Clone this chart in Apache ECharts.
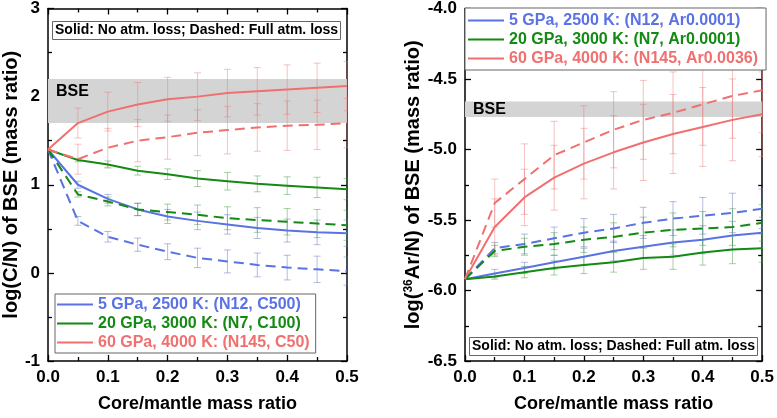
<!DOCTYPE html>
<html>
<head>
<meta charset="utf-8">
<script src="https://cdn.jsdelivr.net/npm/echarts@6/dist/echarts.min.js"></script>
<style>
  html, body { margin: 0; padding: 0; background: #fff; }
  #chart { width: 777px; height: 418px; }
</style>
</head>
<body>
<div id="chart"></div>
<script>
// x: core/mantle mass ratio
var ratio = [0, 0.05, 0.1, 0.15, 0.2, 0.25, 0.3, 0.35, 0.4, 0.45, 0.5];

// left panel: log(C/N) of BSE
var cnNames = ['5 GPa, 2500 K: (N12, C500)', '20 GPa, 3000 K: (N7, C100)', '60 GPa, 4000 K: (N145, C50)'];
var cnBlueSolid    = [1.40, 1.00, 0.84, 0.72, 0.64, 0.59, 0.55, 0.51, 0.48, 0.46, 0.45];
var cnBlueSolidErr = [0, 0.04, 0.05, 0.07, 0.08, 0.10, 0.11, 0.12, 0.13, 0.14, 0.15];
var cnBlueDash     = [1.40, 0.59, 0.41, 0.32, 0.24, 0.17, 0.13, 0.09, 0.06, 0.04, 0.02];
var cnBlueDashErr  = [0, 0.05, 0.06, 0.075, 0.09, 0.11, 0.13, 0.135, 0.14, 0.15, 0.16];
var cnGreenSolid    = [1.40, 1.28, 1.23, 1.16, 1.12, 1.07, 1.04, 1.01, 0.99, 0.97, 0.95];
var cnGreenSolidErr = [0, 0.02, 0.04, 0.05, 0.06, 0.09, 0.10, 0.09, 0.10, 0.115, 0.12];
var cnGreenDash     = [1.40, 0.89, 0.81, 0.72, 0.69, 0.66, 0.62, 0.60, 0.58, 0.56, 0.54];
var cnGreenDashErr  = [0, 0.03, 0.05, 0.07, 0.09, 0.11, 0.13, 0.14, 0.15, 0.16, 0.17];
var cnRedSolid    = [1.40, 1.70, 1.83, 1.91, 1.97, 2.00, 2.04, 2.06, 2.08, 2.10, 2.12];
var cnRedSolidErr = [0, 0.17, 0.22, 0.25, 0.25, 0.27, 0.27, 0.27, 0.28, 0.28, 0.28];
var cnRedDash     = [1.40, 1.29, 1.42, 1.50, 1.54, 1.59, 1.62, 1.65, 1.67, 1.68, 1.70];
var cnRedDashErr  = [0, 0.17, 0.22, 0.24, 0.25, 0.26, 0.27, 0.27, 0.28, 0.28, 0.28];
var cnBSE = [1.7, 2.2];

// right panel: log(36Ar/N) of BSE
var arNames = ['5 GPa, 2500 K: (N12, Ar0.0001)', '20 GPa, 3000 K: (N7, Ar0.0001)', '60 GPa, 4000 K: (N145, Ar0.0036)'];
var arBlueSolid    = [-5.92, -5.88, -5.84, -5.80, -5.76, -5.72, -5.69, -5.66, -5.64, -5.61, -5.59];
var arBlueSolidErr = [0, 0.03, 0.04, 0.05, 0.06, 0.07, 0.08, 0.09, 0.10, 0.10, 0.11];
var arBlueDash     = [-5.92, -5.70, -5.67, -5.63, -5.59, -5.56, -5.52, -5.49, -5.47, -5.45, -5.42];
var arBlueDashErr  = [0, 0.04, 0.07, 0.08, 0.10, 0.10, 0.11, 0.12, 0.13, 0.14, 0.14];
var arGreenSolid    = [-5.92, -5.90, -5.87, -5.84, -5.82, -5.80, -5.77, -5.76, -5.73, -5.71, -5.70];
var arGreenSolidErr = [0, 0.02, 0.04, 0.05, 0.06, 0.07, 0.08, 0.09, 0.09, 0.10, 0.10];
var arGreenDash     = [-5.92, -5.72, -5.69, -5.67, -5.64, -5.62, -5.59, -5.57, -5.56, -5.55, -5.52];
var arGreenDashErr  = [0, 0.04, 0.06, 0.08, 0.09, 0.10, 0.11, 0.12, 0.12, 0.13, 0.13];
var arRedSolid    = [-5.92, -5.55, -5.34, -5.20, -5.10, -5.02, -4.95, -4.89, -4.84, -4.79, -4.75];
var arRedSolidErr = [0, 0.20, 0.20, 0.23, 0.25, 0.26, 0.27, 0.28, 0.28, 0.29, 0.30];
var arRedDash     = [-5.92, -5.38, -5.21, -5.04, -4.95, -4.86, -4.79, -4.74, -4.68, -4.62, -4.58];
var arRedDashErr  = [0, 0.17, 0.25, 0.24, 0.26, 0.27, 0.28, 0.29, 0.29, 0.30, 0.30];
var arBSE = [-4.77, -4.66];

var noteText = 'Solid: No atm. loss; Dashed: Full atm. loss';

var FONT = 'Arial, "Liberation Sans", sans-serif';
var BLUE = '#5a72e4', GREEN = '#138a13', RED = '#f07070';
var BLUE_E = 'rgba(100,120,190,0.55)', GREEN_E = 'rgba(60,150,60,0.5)', RED_E = 'rgba(235,120,120,0.5)';

var chart = echarts.init(document.getElementById('chart'));

function pairs(ys) {
  return ratio.map(function (x, i) { return [x, ys[i]]; });
}

function lineSeries(name, ys, color, dashed, axis) {
  return {
    name: name,
    type: 'line',
    xAxisIndex: axis, yAxisIndex: axis,
    data: pairs(ys),
    symbol: 'none',
    smooth: false,
    z: 3,
    itemStyle: { color: color },
    lineStyle: { color: color, width: 2, type: dashed ? [10, 6] : 'solid' }
  };
}

// error bars drawn via custom series, coordinates come from api.coord
function renderErr(params, api) {
  var x = api.value(0);
  var lo = api.coord([x, api.value(1)]);
  var hi = api.coord([x, api.value(2)]);
  var cap = 3.5;
  var st = { stroke: api.visual('color'), lineWidth: 0.9 };
  return {
    type: 'group',
    children: [
      { type: 'line', shape: { x1: lo[0], y1: lo[1], x2: hi[0], y2: hi[1] }, style: st },
      { type: 'line', shape: { x1: lo[0] - cap, y1: lo[1], x2: lo[0] + cap, y2: lo[1] }, style: st },
      { type: 'line', shape: { x1: hi[0] - cap, y1: hi[1], x2: hi[0] + cap, y2: hi[1] }, style: st }
    ]
  };
}

function errSeries(ys, errs, color, axis) {
  var d = [];
  for (var i = 1; i < ratio.length; i++) {
    d.push([ratio[i], ys[i] - errs[i], ys[i] + errs[i]]);
  }
  return {
    type: 'custom',
    xAxisIndex: axis, yAxisIndex: axis,
    renderItem: renderErr,
    clip: true,
    z: 2,
    itemStyle: { color: color },
    encode: { x: 0, y: [1, 2] },
    data: d
  };
}

function bandSeries(range, axis, offsetY) {
  return {
    type: 'line',
    xAxisIndex: axis, yAxisIndex: axis,
    data: [],
    z: 1,
    silent: true,
    markArea: {
      silent: true,
      itemStyle: { color: '#d4d4d4' },
      label: {
        show: true, position: 'insideLeft', distance: 8, offset: [0, offsetY],
        formatter: 'BSE', color: '#000', fontSize: 16, fontWeight: 'bold', fontFamily: FONT
      },
      data: [[{ yAxis: range[0] }, { yAxis: range[1] }]]
    }
  };
}

var tickStyle = { color: '#000', width: 1.3 };

function xAxisCfg(grid, pos, withLabel) {
  return {
    type: 'value', gridIndex: grid, position: pos,
    min: 0, max: 0.5, interval: 0.1,
    axisLine: { show: true, onZero: false, lineStyle: { color: '#000', width: 1.5 } },
    axisTick: { show: true, inside: true, length: 6, lineStyle: tickStyle },
    minorTick: { show: true, splitNumber: 2, length: 4, lineStyle: tickStyle },
    splitLine: { show: false },
    axisLabel: {
      show: withLabel, color: '#000', fontSize: 17, fontWeight: 'bold', fontFamily: FONT, margin: 8,
      formatter: function (v) { return v.toFixed(1); }
    },
    name: withLabel ? 'Core/mantle mass ratio' : '',
    nameLocation: 'middle', nameGap: 34,
    nameTextStyle: { color: '#000', fontSize: 18, fontWeight: 'bold', fontFamily: FONT }
  };
}

function yAxisCfg(grid, pos, min, max, interval, digits, name, gap) {
  return {
    type: 'value', gridIndex: grid, position: pos,
    min: min, max: max, interval: interval,
    axisLine: { show: true, onZero: false, lineStyle: { color: '#000', width: 1.5 } },
    axisTick: { show: true, inside: true, length: 6, lineStyle: tickStyle },
    minorTick: { show: true, splitNumber: 2, length: 4, lineStyle: tickStyle },
    splitLine: { show: false },
    axisLabel: {
      show: !!name, color: '#000', fontSize: 17, fontWeight: 'bold', fontFamily: FONT, margin: 8,
      formatter: function (v) { return v.toFixed(digits); }
    },
    name: name || '',
    nameLocation: 'middle', nameRotate: 90, nameGap: gap,
    nameTextStyle: {
      color: '#000', fontSize: 20, fontWeight: 'bold', fontFamily: FONT,
      rich: { sup: { fontSize: 12, fontWeight: 'bold', fontFamily: FONT, color: '#000', padding: [0, 0, 10, 0] } }
    }
  };
}

// legend with plain line samples (thin rect), text coloured per series
function legendCfg(names, left, top, padding) {
  var cols = [BLUE, GREEN, RED];
  return {
    orient: 'vertical', left: left, top: top,
    icon: 'rect',
    itemWidth: 36, itemHeight: 2, itemGap: 0,
    padding: padding,
    backgroundColor: '#fff',
    borderColor: '#666', borderWidth: 1,
    selectedMode: false,
    textStyle: { fontSize: 16, fontWeight: 'bold', fontFamily: FONT, lineHeight: 19 },
    data: names.map(function (n, i) {
      return { name: n, itemStyle: { color: cols[i] }, textStyle: { color: cols[i] } };
    })
  };
}

function noteCfg(left, top) {
  return {
    text: noteText, left: left, top: top,
    padding: [2, 3, 3, 3],
    borderColor: '#666', borderWidth: 1, backgroundColor: '#fff',
    textStyle: { fontSize: 14, fontWeight: 'bold', color: '#000', fontFamily: FONT }
  };
}

var option = {
  animation: false,
  backgroundColor: '#fff',
  textStyle: { fontFamily: FONT },
  title: [noteCfg(52, 21), noteCfg(469, 337)],
  legend: [
    legendCfg(cnNames, 55, 294, [1, 6, 1, 2]),
    legendCfg(arNames, 465, 8, [3, 8, 2, 3])
  ],
  grid: [
    { left: 47, top: 8, width: 300, height: 358 },
    { left: 465, top: 8, width: 300, height: 358 }
  ],
  xAxis: [
    xAxisCfg(0, 'bottom', true), xAxisCfg(0, 'top', false),
    xAxisCfg(1, 'bottom', true), xAxisCfg(1, 'top', false)
  ],
  yAxis: [
    yAxisCfg(0, 'left', -1, 3, 1, 0, 'log(C/N) of BSE (mass ratio)', 26),
    yAxisCfg(0, 'right', -1, 3, 1, 0, null, 0),
    yAxisCfg(1, 'left', -6.5, -4, 0.5, 1, 'log({sup|36}Ar/N) of BSE (mass ratio)', 38),
    yAxisCfg(1, 'right', -6.5, -4, 0.5, 1, null, 0)
  ],
  series: [
    bandSeries(cnBSE, 0, -9),
    lineSeries(cnNames[0], cnBlueSolid, BLUE, false, 0),
    lineSeries(cnNames[1], cnGreenSolid, GREEN, false, 0),
    lineSeries(cnNames[2], cnRedSolid, RED, false, 0),
    lineSeries(cnNames[0], cnBlueDash, BLUE, true, 0),
    lineSeries(cnNames[1], cnGreenDash, GREEN, true, 0),
    lineSeries(cnNames[2], cnRedDash, RED, true, 0),
    errSeries(cnBlueSolid, cnBlueSolidErr, BLUE_E, 0),
    errSeries(cnBlueDash, cnBlueDashErr, BLUE_E, 0),
    errSeries(cnGreenSolid, cnGreenSolidErr, GREEN_E, 0),
    errSeries(cnGreenDash, cnGreenDashErr, GREEN_E, 0),
    errSeries(cnRedSolid, cnRedSolidErr, RED_E, 0),
    errSeries(cnRedDash, cnRedDashErr, RED_E, 0),

    bandSeries(arBSE, 2, 0),
    lineSeries(arNames[0], arBlueSolid, BLUE, false, 2),
    lineSeries(arNames[1], arGreenSolid, GREEN, false, 2),
    lineSeries(arNames[2], arRedSolid, RED, false, 2),
    lineSeries(arNames[0], arBlueDash, BLUE, true, 2),
    lineSeries(arNames[1], arGreenDash, GREEN, true, 2),
    lineSeries(arNames[2], arRedDash, RED, true, 2),
    errSeries(arBlueSolid, arBlueSolidErr, BLUE_E, 2),
    errSeries(arBlueDash, arBlueDashErr, BLUE_E, 2),
    errSeries(arGreenSolid, arGreenSolidErr, GREEN_E, 2),
    errSeries(arGreenDash, arGreenDashErr, GREEN_E, 2),
    errSeries(arRedSolid, arRedSolidErr, RED_E, 2),
    errSeries(arRedDash, arRedDashErr, RED_E, 2)
  ]
};

chart.setOption(option);
</script>
</body>
</html>
